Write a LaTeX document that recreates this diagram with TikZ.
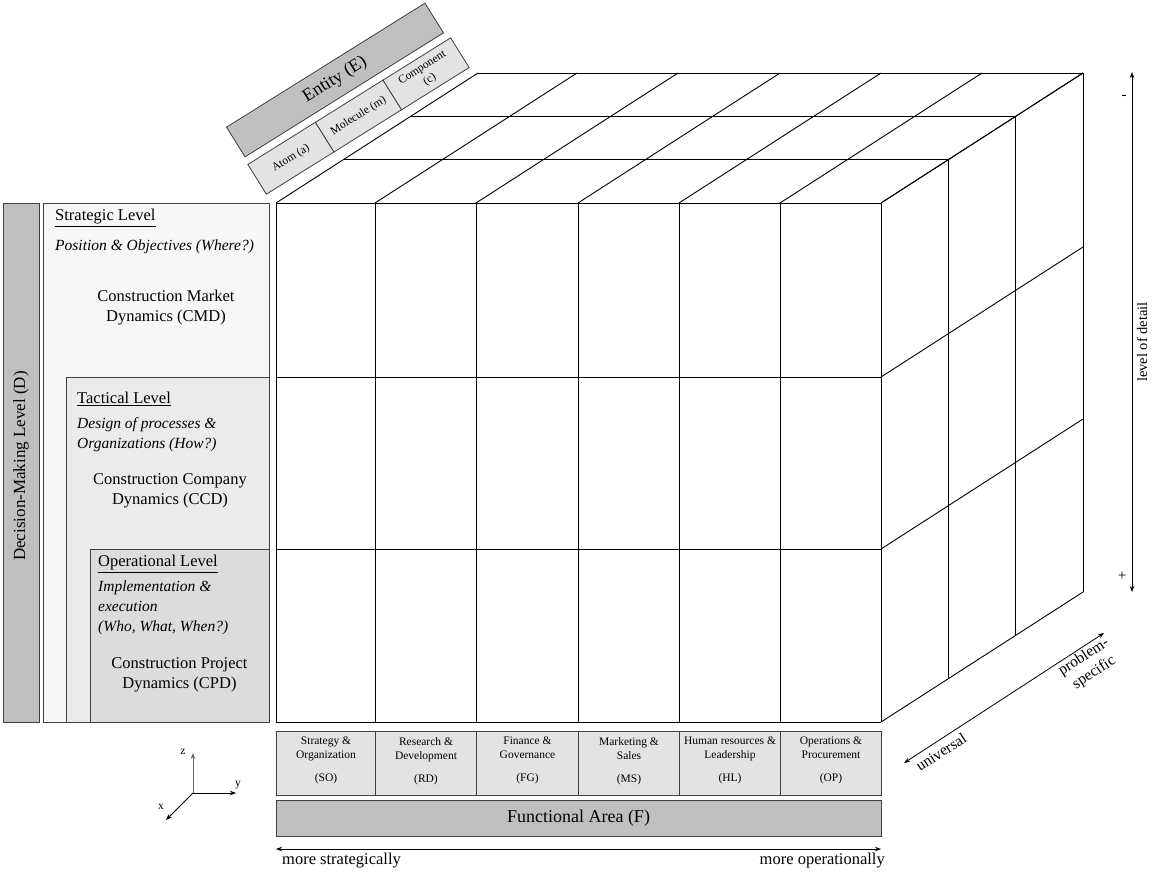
\documentclass[tikz,border=0pt]{standalone}
\usepackage{fontspec}
\setmainfont{Liberation Serif}
\usetikzlibrary{arrows.meta}
\definecolor{darkfill}{HTML}{BFBFBF}
\definecolor{stratfill}{HTML}{F7F7F7}
\definecolor{tactfill}{HTML}{EBEBEB}
\definecolor{operfill}{HTML}{DCDCDC}
\definecolor{cellfill}{HTML}{E3E3E3}
\definecolor{edgegray}{HTML}{404040}
\begin{document}
\begin{tikzpicture}[x=1pt,y=-1pt,
  gridline/.style={black, line width=0.9pt},
  panel/.style={draw=edgegray, line width=1pt, inner sep=0pt, anchor=north west},
  bar/.style={draw=edgegray, line width=1pt, fill=darkfill, inner sep=0pt},
  cellbox/.style={draw=edgegray, line width=1pt, fill=cellfill, inner sep=0pt, anchor=north west, minimum height=64pt},
  celltext/.style={align=center, anchor=north, inner sep=0pt, font=\fontsize{11.5}{14}\selectfont},
  stripbox/.style={draw=edgegray, line width=0.8pt, fill=cellfill, rotate=32, inner sep=0pt, minimum width=79.7pt, minimum height=35pt, align=center, font=\fontsize{11.5}{14}\selectfont},
  reg/.style={inner sep=0pt, font=\fontsize{16.5}{20}\selectfont},
  ital/.style={inner sep=0pt, align=left, anchor=west, font=\fontsize{15.5}{20}\selectfont\itshape},
  arr/.style={line width=0.8pt, {Stealth[length=6pt,width=4.5pt]}-{Stealth[length=6pt,width=4.5pt]}},
  onearr/.style={line width=0.8pt, -{Stealth[length=6pt,width=4.5pt]}}
]
\useasboundingbox (0,0) rectangle (1153,871);

% ---------------- Cube ----------------
\def\dx{67.333}\def\dy{43.333}
\foreach \X in {276,375,476,578,679,780,881}{
  \draw[gridline] (\X,203) -- (\X,722);
  \draw[gridline] (\X,203) -- ++(3*\dx,-3*\dy);
}
\foreach \Y in {203,377,549,722}{
  \draw[gridline] (276,\Y) -- (881,\Y);
  \draw[gridline] (881,\Y) -- ++(3*\dx,-3*\dy);
}
\foreach \k in {1,2,3}{
  \draw[gridline] (276+\k*\dx,203-\k*\dy) -- (881+\k*\dx,203-\k*\dy);
  \draw[gridline] (881+\k*\dx,203-\k*\dy) -- (881+\k*\dx,722-\k*\dy);
}

% ---------------- Decision-making panels ----------------
\node[bar, minimum width=36pt, minimum height=519pt, anchor=north west] (dml) at (3,203) {};
\node[rotate=90, inner sep=0pt, font=\fontsize{17}{20}\selectfont] (dmltext) at (21,466) {Decision-Making Level (D)};

\node[panel, fill=stratfill, minimum width=226pt, minimum height=519pt] (strat) at (43,203) {};
\node[panel, fill=tactfill, minimum width=203pt, minimum height=345pt] (tact) at (66,377) {};
\node[panel, fill=operfill, minimum width=179pt, minimum height=173pt] (oper) at (90,549) {};

\node[reg, anchor=west] (stratt) at (55,218) {\underline{Strategic Level}};
\node[ital] (strati) at (55,247) {Position \& Objectives (Where?)};
\node[reg, align=center] (cmd) at (166,308) {Construction Market\\Dynamics (CMD)};

\node[reg, anchor=west] (tactt) at (77,399) {\underline{Tactical Level}\,};
\node[ital] (tacti) at (77,435) {Design of processes \&\\Organizations (How?)};
\node[reg, align=center] (ccd) at (170,491) {Construction Company\\Dynamics (CCD)};

\node[reg, anchor=west] (opert) at (98,564) {\underline{Operational Level}};
\node[ital] (operi) at (98,607.5) {Implementation \&\\execution\\(Who, What, When?)};
\node[reg, align=center] (cpd) at (179.5,675) {Construction Project\\Dynamics (CPD)};

% ---------------- Entity strips ----------------
\node[draw=edgegray, line width=0.8pt, fill=darkfill, rotate=32, inner sep=0pt, minimum width=234pt, minimum height=35pt, font=\fontsize{18}{20}\selectfont] (entity) at (335,80) {Entity (E)};
\node[stripbox] (atom) at (290.9,158.2) {Atom (a)};
\node[stripbox] (molecule) at (358.5,116) {Molecule (m)};
\node[stripbox] (component) at (426.1,73.8) {Component\\(c)};

% ---------------- Functional area ----------------
\node[cellbox, minimum width=99pt] (so) at (276,731) {};
\node[cellbox, minimum width=101pt] (rd) at (375,731) {};
\node[cellbox, minimum width=102pt] (fg) at (476,731) {};
\node[cellbox, minimum width=101pt] (ms) at (578,731) {};
\node[cellbox, minimum width=101pt] (hl) at (679,731) {};
\node[cellbox, minimum width=101pt] (op) at (780,731) {};
\node[celltext] at ([yshift=-6pt]so.north) {Strategy \&\\Organization\\[9pt](SO)};
\node[celltext] at ([yshift=-6pt]rd.north) {Research \&\\Development\\[9pt](RD)};
\node[celltext] at ([yshift=-6pt]fg.north) {Finance \&\\Governance\\[9pt](FG)};
\node[celltext] at ([yshift=-6pt]ms.north) {Marketing \&\\Sales\\[9pt](MS)};
\node[celltext] at ([yshift=-6pt]hl.north) {Human resources \&\\Leadership\\[9pt](HL)};
\node[celltext] at ([yshift=-6pt]op.north) {Operations \&\\Procurement\\[9pt](OP)};

\node[bar, minimum width=605pt, minimum height=36pt, font=\fontsize{18}{20}\selectfont] (farea) at (578.5,818) {Functional Area (F)};

% ---------------- Bottom arrow ----------------
\coordinate (bl) at (276,849);
\coordinate (br) at (881,849);
\draw[arr] (bl) -- (br);
\node[reg, anchor=west] (morestrat) at (282,861) {more strategically};
\node[reg, anchor=east] (moreoper) at (885,861) {more operationally};

% ---------------- Right arrow ----------------
\coordinate (rt) at (1132,72);
\coordinate (rb) at (1132,592);
\draw[arr] (rt) -- (rb);
\node[inner sep=0pt, font=\fontsize{15}{16}\selectfont] (minus) at (1124,97) {-};
\node[inner sep=0pt, font=\fontsize{15}{16}\selectfont] (plus) at (1122,576) {+};
\node[rotate=90, inner sep=0pt, font=\fontsize{14.5}{16}\selectfont] (lod) at (1142,342) {level of detail};

% ---------------- Diagonal arrow ----------------
\coordinate (du) at (904,763);
\coordinate (dp) at (1104,633);
\draw[arr] (du) -- (dp);
\node[rotate=33, inner sep=0pt, font=\fontsize{15.5}{16}\selectfont] (univ) at (941,752) {universal};
\node[rotate=33, inner sep=0pt, align=center, font=\fontsize{15.5}{19}\selectfont] (probs) at (1089,665) {problem-\\specific};

% ---------------- Axis triad ----------------
\coordinate (o) at (193,793);
\coordinate (zt) at (193,753);
\coordinate (yt) at (236,793);
\coordinate (xt) at (166,820);
\draw[onearr, draw=gray!80!black] (o) -- (zt);
\draw[onearr] (o) -- (yt);
\draw[onearr] (o) -- (xt);
\node[inner sep=0pt, font=\fontsize{11.5}{12}\selectfont] (zl) at (183,752) {z};
\node[inner sep=0pt, font=\fontsize{11.5}{12}\selectfont] (yl) at (238,785) {y};
\node[inner sep=0pt, font=\fontsize{11.5}{12}\selectfont] (xl) at (161,807) {x};
\end{tikzpicture}
\end{document}
